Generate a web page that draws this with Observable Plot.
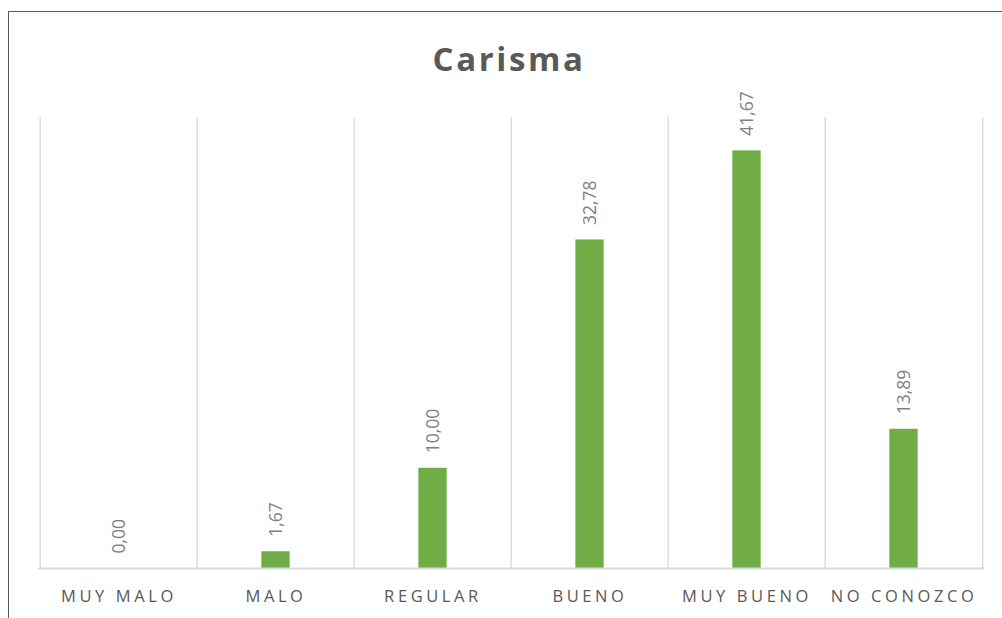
<!DOCTYPE html>
<html><head><meta charset="utf-8">
<script src="https://cdn.jsdelivr.net/npm/d3@7"></script>
<script src="https://cdn.jsdelivr.net/npm/@observablehq/plot@0.6"></script>
<style>
html,body{margin:0;padding:0;background:#fff;overflow:hidden;}
#wrap{position:relative;width:1002px;height:618px;}
#border{position:absolute;left:8px;top:11px;width:1100px;height:700px;border-top:1.5px solid #595959;border-left:1.5px solid #595959;}
#title{position:absolute;left:0;top:37px;width:1018px;text-align:center;font-family:"Open Sans",sans-serif;font-weight:bold;font-size:33px;letter-spacing:2.6px;color:#595959;line-height:44px;}
#chart{position:absolute;left:0;top:0;}
g[aria-label="x-axis tick label"] text{letter-spacing:3.6px;}
</style></head>
<body><div id="wrap"><div id="border"></div><div id="title">Carisma</div><div id="chart"></div></div>
<script>
const categories = ["MUY MALO","MALO","REGULAR","BUENO","MUY BUENO","NO CONOZCO"];
const values = [0.00, 1.67, 10.00, 32.78, 41.67, 13.89];
const data = categories.map((c,i)=>({cat:c, v:values[i]}));
const W = 1002, H = 618, mL = 38, mR = 18;
const bw = (W - mL - mR) / categories.length;
const chart = Plot.plot({
  width: W, height: H,
  marginLeft: mL, marginRight: mR, marginTop: 117, marginBottom: 50,
  style: {background: "transparent", fontFamily: "'Open Sans', sans-serif"},
  x: {domain: categories, padding: 0, label: null},
  y: {domain: [0, 45], axis: null},
  marks: [
    Plot.ruleX(categories, {x: d => d, dx: -bw/2, y1: 0, y2: 45, stroke: "#d9d9d9", strokeWidth: 1.3}),
    Plot.ruleX([categories[categories.length-1]], {x: d => d, dx: bw/2, y1: 0, y2: 45, stroke: "#d9d9d9", strokeWidth: 1.3}),
    Plot.barY(data, {x: "cat", y: "v", fill: "#70AD47", insetLeft: (bw-29)/2, insetRight: (bw-29)/2}),
    Plot.ruleY([0], {stroke: "#d9d9d9", strokeWidth: 1.8}),
    Plot.text(data, {x: "cat", y: "v", text: d => d.v.toFixed(2).replace(".", ","), rotate: -90, textAnchor: "start", dy: -15, fill: "#7f7f7f", fontSize: 17.5}),
    Plot.axisX({tickSize: 0, tickPadding: 22, fontSize: 16.5, fill: "#595959", label: null})
  ]
});
document.getElementById("chart").appendChild(chart);
</script></body></html>
